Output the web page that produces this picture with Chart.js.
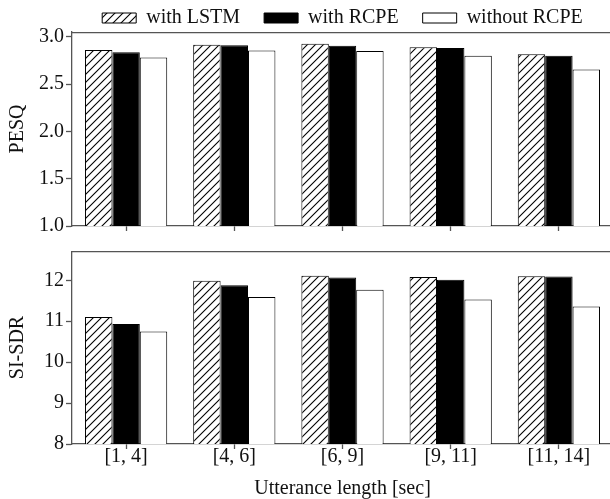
<!DOCTYPE html>
<html>
<head>
<meta charset="utf-8">
<script src="https://cdn.jsdelivr.net/npm/chart.js@4/dist/chart.umd.min.js"></script>
<style>
  html, body { margin: 0; padding: 0; background: #fff; overflow: hidden; }
  .box { position: absolute; left: 0; width: 613px; }
  #topBox { top: -16px; height: 256px; }
  #botBox { top: 251px; height: 248px; }
</style>
</head>
<body>
<div class="box" id="topBox"><canvas id="pesqChart" width="613" height="256"></canvas></div>
<div class="box" id="botBox"><canvas id="sdrChart" width="613" height="248"></canvas></div>
<script>
// data
const categories = ["[1, 4]", "[4, 6]", "[6, 9]", "[9, 11]", "[11, 14]"];
const seriesNames = ["with LSTM", "with RCPE", "without RCPE"];

const pesqLstm = [2.86, 2.915, 2.925, 2.89, 2.815];
const pesqRcpe = [2.835, 2.91, 2.905, 2.88, 2.80];
const pesqNone = [2.78, 2.855, 2.85, 2.80, 2.655];

const sdrLstm = [11.10, 11.99, 12.11, 12.08, 12.10];
const sdrRcpe = [10.93, 11.88, 12.07, 12.01, 12.09];
const sdrNone = [10.75, 11.59, 11.77, 11.53, 11.36];

const pesqTicks = [1.0, 1.5, 2.0, 2.5, 3.0];
const sdrTicks = [8, 9, 10, 11, 12];

const FONT = "'Liberation Serif', 'Times New Roman', serif";
const AXIS = "#555";
const TEXT = "#111";

function hatch() {
  const s = 8;
  const c = document.createElement("canvas");
  c.width = s; c.height = s;
  const g = c.getContext("2d");
  g.fillStyle = "#fff";
  g.fillRect(0, 0, s, s);
  g.strokeStyle = "#000";
  g.lineWidth = 1.1;
  g.beginPath();
  g.moveTo(-1, s + 1); g.lineTo(s + 1, -1);
  g.moveTo(-2, 2); g.lineTo(2, -2);
  g.moveTo(s - 2, s + 2); g.lineTo(s + 2, s - 2);
  g.stroke();
  return g.createPattern(c, "repeat");
}
const hatchFill = hatch();

function makeSets(a, b, c) {
  const fills = [hatchFill, "#000", "#fff"];
  return [a, b, c].map((d, i) => ({
    label: seriesNames[i],
    data: d,
    backgroundColor: fills[i],
    borderColor: "#000",
    borderWidth: 1,
    categoryPercentage: 0.76,
    barPercentage: 1.0
  }));
}

// top line of the plot box (right side is cut off in the figure)
const frame = {
  id: "frame",
  afterDatasetsDraw(chart) {
    const a = chart.chartArea, ctx = chart.ctx;
    ctx.save();
    ctx.strokeStyle = AXIS;
    ctx.lineWidth = 1.3;
    ctx.beginPath();
    ctx.moveTo(a.left, a.top + 0.7);
    ctx.lineTo(a.right, a.top + 0.7);
    ctx.stroke();
    ctx.restore();
  }
};

// legend is a bit tighter than chart.js wants
const legendFit = {
  id: "legendFit",
  beforeLayout(chart) {
    const lg = chart.legend;
    if (lg && !lg._patched) {
      const f = lg.fit;
      lg.fit = function () { f.call(this); this.height = 48; };
      lg._patched = true;
    }
  }
};

function yAxis(min, max, ticks, title, fmt) {
  return {
    min: min, max: max,
    afterBuildTicks: s => { s.ticks = ticks.map(v => ({ value: v })); },
    afterFit: s => { s.width = 72; s.paddingTop = 0; s.paddingBottom = 0; },
    ticks: { callback: fmt, font: { family: FONT, size: 20 }, color: TEXT, padding: 2 },
    grid: { drawOnChartArea: false, drawTicks: true, tickLength: 6, tickColor: AXIS, tickWidth: 1.3 },
    border: { display: true, color: AXIS, width: 1.3 },
    title: { display: true, text: title, font: { family: FONT, size: 20 }, color: TEXT, padding: { top: 6, bottom: 0 } }
  };
}

function xAxis(h, showLabels) {
  const ax = {
    afterFit: s => { s.height = h; },
    ticks: { display: showLabels, font: { family: FONT, size: 20 }, color: TEXT, padding: -4, maxRotation: 0 },
    grid: { offset: false, drawOnChartArea: false, drawTicks: true, tickLength: 5, tickColor: AXIS, tickWidth: 1.3 },
    border: { display: true, color: AXIS, width: 1.3 }
  };
  if (showLabels) {
    ax.title = { display: true, text: "Utterance length [sec]", font: { family: FONT, size: 20, lineHeight: 1 }, color: TEXT, padding: { top: 0, bottom: 0 } };
  }
  return ax;
}

new Chart(document.getElementById("pesqChart"), {
  type: "bar",
  data: { labels: categories, datasets: makeSets(pesqLstm, pesqRcpe, pesqNone) },
  options: {
    responsive: false,
    animation: false,
    plugins: {
      legend: {
        position: "top",
        fullSize: false,
        labels: { font: { family: FONT, size: 20 }, color: TEXT, boxWidth: 34, boxHeight: 10, padding: 24 }
      }
    },
    scales: {
      x: xAxis(14, false),
      y: yAxis(1, 3.05, pesqTicks, "PESQ", v => v.toFixed(1))
    }
  },
  plugins: [frame, legendFit]
});

new Chart(document.getElementById("sdrChart"), {
  type: "bar",
  data: { labels: categories, datasets: makeSets(sdrLstm, sdrRcpe, sdrNone) },
  options: {
    responsive: false,
    animation: false,
    plugins: { legend: { display: false } },
    scales: {
      x: xAxis(55, true),
      y: yAxis(8, 12.715, sdrTicks, "SI-SDR", v => String(v))
    }
  },
  plugins: [frame]
});
</script>
</body>
</html>
